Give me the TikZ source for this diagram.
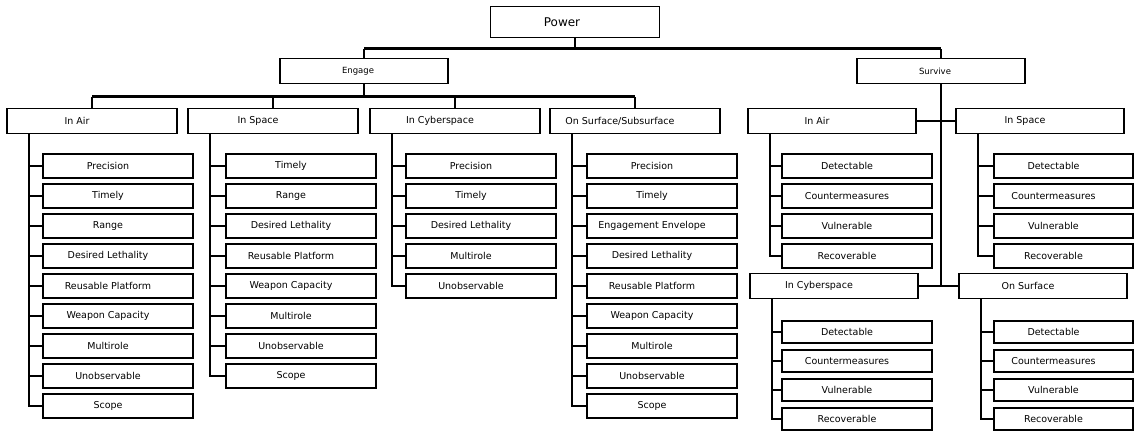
\documentclass[tikz,border=0pt]{standalone}
\usepackage{fontspec}
\setmainfont{DejaVu Sans}
\usetikzlibrary{positioning}

\begin{document}
\begin{tikzpicture}[%
  x=1pt, y=-1pt,
  box/.style={draw, line width=1.6pt, fill=white, inner sep=1pt, outer sep=0pt, minimum height=25pt},
  topbox/.style={box, minimum width=169pt, minimum height=31pt, font=\fontsize{12}{14}\selectfont, execute at end node={\hspace{26pt}}},
  midbox/.style={box, minimum width=168pt, font=\fontsize{8.5}{10}\selectfont, execute at end node={\hspace{12pt}}},
  areabox/.style={box, minimum width=170pt, font=\fontsize{9.5}{11}\selectfont, execute at end node={\hspace{30pt}}},
  leaf/.style={box, minimum width=150pt, minimum height=24pt, font=\fontsize{9.5}{11}\selectfont, execute at end node={\hspace{20pt}}},
  link/.style={line width=1.3pt},
  bar/.style={line width=3pt}]
\path[use as bounding box, fill=white] (0,0) rectangle (1135,433);

\node[topbox] (power) at (575,22) {Power};
\node[midbox] (engage) at (364,71) {Engage};
\node[midbox] (survive) at (941,71) {Survive};

\node[areabox] (eair) at (92,121) {In Air};
\node[areabox] (espace) at (273,121) {In Space};
\node[areabox] (ecyber) at (455,121) {In Cyberspace};
\node[areabox] (esurf) at (635,121) {On Surface/Subsurface};
\node[areabox, minimum width=168pt] (sair) at (832,121) {In Air};
\node[areabox, minimum width=168pt] (sspace) at (1040,121) {In Space};
\node[areabox, minimum width=168pt] (scyber) at (834,286) {In Cyberspace};
\node[areabox, minimum width=168pt] (ssurf) at (1043,286) {On Surface};

% engage / in air
\node[leaf] (ea1) at (118,166) {Precision};
\node[leaf, below=6pt of ea1] (ea2) {Timely};
\node[leaf, below=6pt of ea2] (ea3) {Range};
\node[leaf, below=6pt of ea3] (ea4) {Desired Lethality};
\node[leaf, below=6pt of ea4] (ea5) {Reusable Platform};
\node[leaf, below=6pt of ea5] (ea6) {Weapon Capacity};
\node[leaf, below=6pt of ea6] (ea7) {Multirole};
\node[leaf, below=6pt of ea7] (ea8) {Unobservable};
\node[leaf, below=6pt of ea8] (ea9) {Scope};

% engage / in space
\node[leaf] (es1) at (301,166) {Timely};
\node[leaf, below=6pt of es1] (es2) {Range};
\node[leaf, below=6pt of es2] (es3) {Desired Lethality};
\node[leaf, below=6pt of es3] (es4) {Reusable Platform};
\node[leaf, below=6pt of es4] (es5) {Weapon Capacity};
\node[leaf, below=6pt of es5] (es6) {Multirole};
\node[leaf, below=6pt of es6] (es7) {Unobservable};
\node[leaf, below=6pt of es7] (es8) {Scope};

% engage / in cyberspace
\node[leaf] (ec1) at (481,166) {Precision};
\node[leaf, below=6pt of ec1] (ec2) {Timely};
\node[leaf, below=6pt of ec2] (ec3) {Desired Lethality};
\node[leaf, below=6pt of ec3] (ec4) {Multirole};
\node[leaf, below=6pt of ec4] (ec5) {Unobservable};

% engage / on surface
\node[leaf] (eo1) at (662,166) {Precision};
\node[leaf, below=6pt of eo1] (eo2) {Timely};
\node[leaf, below=6pt of eo2] (eo3) {Engagement Envelope};
\node[leaf, below=6pt of eo3] (eo4) {Desired Lethality};
\node[leaf, below=6pt of eo4] (eo5) {Reusable Platform};
\node[leaf, below=6pt of eo5] (eo6) {Weapon Capacity};
\node[leaf, below=6pt of eo6] (eo7) {Multirole};
\node[leaf, below=6pt of eo7] (eo8) {Unobservable};
\node[leaf, below=6pt of eo8] (eo9) {Scope};

% survive
\node[leaf] (sa1) at (857,166) {Detectable};
\node[leaf, below=6pt of sa1] (sa2) {Countermeasures};
\node[leaf, below=6pt of sa2] (sa3) {Vulnerable};
\node[leaf, below=6pt of sa3] (sa4) {Recoverable};

\node[leaf, minimum width=139pt] (ss1) at (1063.5,166) {Detectable};
\node[leaf, minimum width=139pt, below=6pt of ss1] (ss2) {Countermeasures};
\node[leaf, minimum width=139pt, below=6pt of ss2] (ss3) {Vulnerable};
\node[leaf, minimum width=139pt, below=6pt of ss3] (ss4) {Recoverable};

\node[leaf, minimum height=22pt] (sc1) at (857,332) {Detectable};
\node[leaf, minimum height=22pt, below=7pt of sc1] (sc2) {Countermeasures};
\node[leaf, minimum height=22pt, below=7pt of sc2] (sc3) {Vulnerable};
\node[leaf, minimum height=22pt, below=7pt of sc3] (sc4) {Recoverable};

\node[leaf, minimum height=22pt, minimum width=139pt] (so1) at (1063.5,332) {Detectable};
\node[leaf, minimum height=22pt, minimum width=139pt, below=7pt of so1] (so2) {Countermeasures};
\node[leaf, minimum height=22pt, minimum width=139pt, below=7pt of so2] (so3) {Vulnerable};
\node[leaf, minimum height=22pt, minimum width=139pt, below=7pt of so3] (so4) {Recoverable};

\coordinate (tbar) at (0,49);
\coordinate (ebar) at (0,97);
\draw[link] (power.south) -- (power.south |- tbar);
\draw[link] (engage.north) -- (engage.north |- tbar);
\draw[link] (survive.north) -- (survive.north |- tbar);
\draw[bar] (engage.north |- tbar) -- (survive.north |- tbar);

\draw[link] (engage.south) -- (engage.south |- ebar);
\draw[link] (eair.north) -- (eair.north |- ebar);
\draw[link] (espace.north) -- (espace.north |- ebar);
\draw[link] (ecyber.north) -- (ecyber.north |- ebar);
\draw[link] (esurf.north) -- (esurf.north |- ebar);
\draw[bar] (eair.north |- ebar) -- (esurf.north |- ebar);

\draw[link] (survive.south) -- (survive.south |- scyber.center);
\draw[link, line width=2pt] (sair.east) -- (sspace.west);
\draw[link] (scyber.east) -- (ssurf.west);

\coordinate (eaT) at ([xshift=22pt]eair.south west);
\coordinate (esT) at ([xshift=22pt]espace.south west);
\coordinate (ecT) at ([xshift=22pt]ecyber.south west);
\coordinate (eoT) at ([xshift=22pt]esurf.south west);
\coordinate (saT) at ([xshift=22pt]sair.south west);
\coordinate (ssT) at ([xshift=22pt]sspace.south west);
\coordinate (scT) at ([xshift=22pt]scyber.south west);
\coordinate (soT) at ([xshift=22pt]ssurf.south west);

\draw[link] (eaT) |- (ea1.west) (eaT) |- (ea2.west) (eaT) |- (ea3.west)
	(eaT) |- (ea4.west) (eaT) |- (ea5.west) (eaT) |- (ea6.west)
	(eaT) |- (ea7.west) (eaT) |- (ea8.west) (eaT) |- (ea9.west);
\draw[link] (esT) |- (es1.west) (esT) |- (es2.west) (esT) |- (es3.west)
	(esT) |- (es4.west) (esT) |- (es5.west) (esT) |- (es6.west)
	(esT) |- (es7.west) (esT) |- (es8.west);
\draw[link] (ecT) |- (ec1.west) (ecT) |- (ec2.west) (ecT) |- (ec3.west)
	(ecT) |- (ec4.west) (ecT) |- (ec5.west);
\draw[link] (eoT) |- (eo1.west) (eoT) |- (eo2.west) (eoT) |- (eo3.west)
	(eoT) |- (eo4.west) (eoT) |- (eo5.west) (eoT) |- (eo6.west)
	(eoT) |- (eo7.west) (eoT) |- (eo8.west) (eoT) |- (eo9.west);
\draw[link] (saT) |- (sa1.west) (saT) |- (sa2.west) (saT) |- (sa3.west) (saT) |- (sa4.west);
\draw[link] (ssT) |- (ss1.west) (ssT) |- (ss2.west) (ssT) |- (ss3.west) (ssT) |- (ss4.west);
\draw[link] (scT) |- (sc1.west) (scT) |- (sc2.west) (scT) |- (sc3.west) (scT) |- (sc4.west);
\draw[link] (soT) |- (so1.west) (soT) |- (so2.west) (soT) |- (so3.west) (soT) |- (so4.west);
\end{tikzpicture}
\end{document}
